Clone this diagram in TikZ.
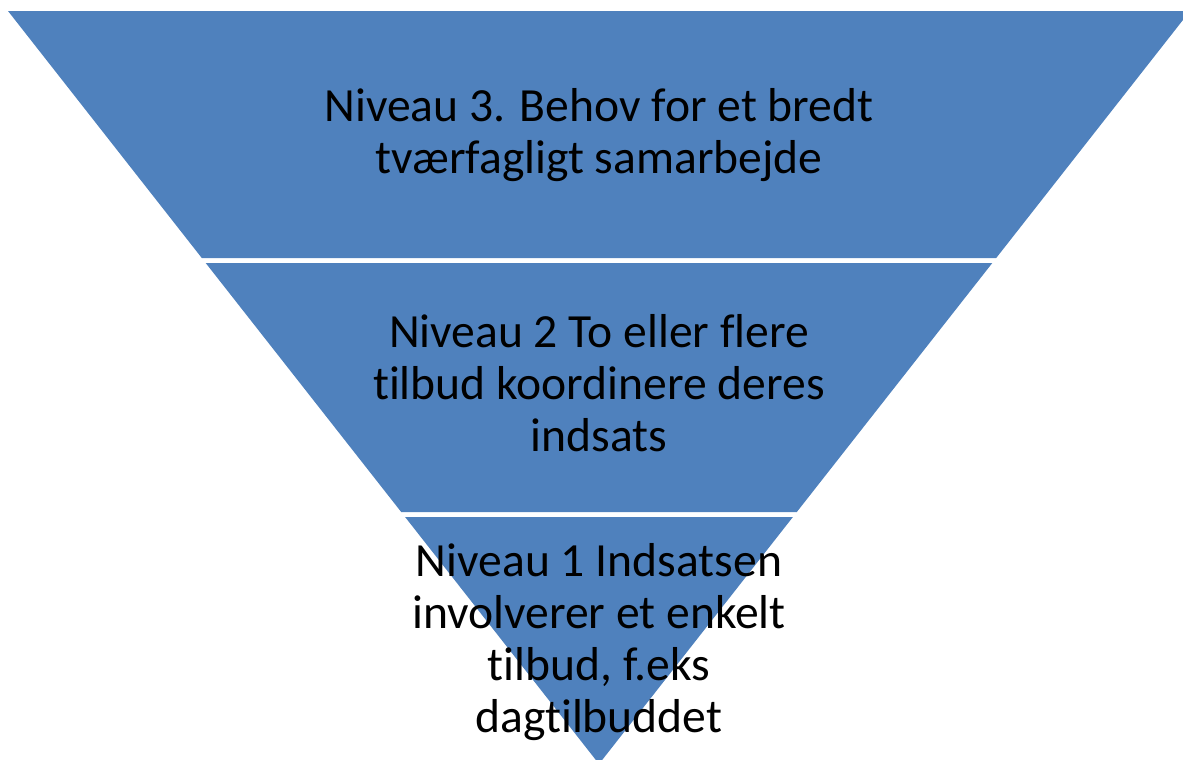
\documentclass[tikz,border=0pt]{standalone}
\usepackage{fontspec}
\setmainfont{Carlito}[Ligatures={NoCommon,TeX}]
\definecolor{segblue}{HTML}{4F81BD}
\tikzset{
  seg/.style={fill=segblue, draw=none},
  lbl/.style={anchor=base, inner sep=0pt, font=\fontsize{23.8}{26}\selectfont, text=black}
}
\newcommand{\stacklines}[1]{\setlength{\tabcolsep}{0pt}\begin{tabular}[t]{c}#1\end{tabular}}
\begin{document}
\begin{tikzpicture}[x=0.5pt,y=-0.5pt]
\useasboundingbox (0,0) rectangle (1183,760);
\begin{scope}
\clip (0,0) rectangle (1183,760);
% segment 3 (top)
\path[seg] (8,11) -- (1190,11) -- (996.2,258) -- (201.8,258) -- cycle;
% segment 2 (middle)
\path[seg] (205.7,263) -- (992.3,263) -- (796.8,512) -- (401.2,512) -- cycle;
% segment 1 (bottom)
\path[seg] (405.1,517) -- (792.9,517) -- (599,764) -- cycle;
\end{scope}
\node[lbl] (n3) at (599,121.5) {\stacklines{Niveau 3. Behov for et bredt\\ tværfagligt samarbejde}};
\node[lbl] (n2) at (599,347.5) {\stacklines{Niveau 2 To eller flere\\ tilbud koordinere deres\\ indsats}};
\node[lbl] (n1) at (599,576) {\stacklines{Niveau 1 Indsatsen\\ involverer et enkelt\\ tilbud, f.eks\\ dagtilbuddet}};
\end{tikzpicture}
\end{document}
